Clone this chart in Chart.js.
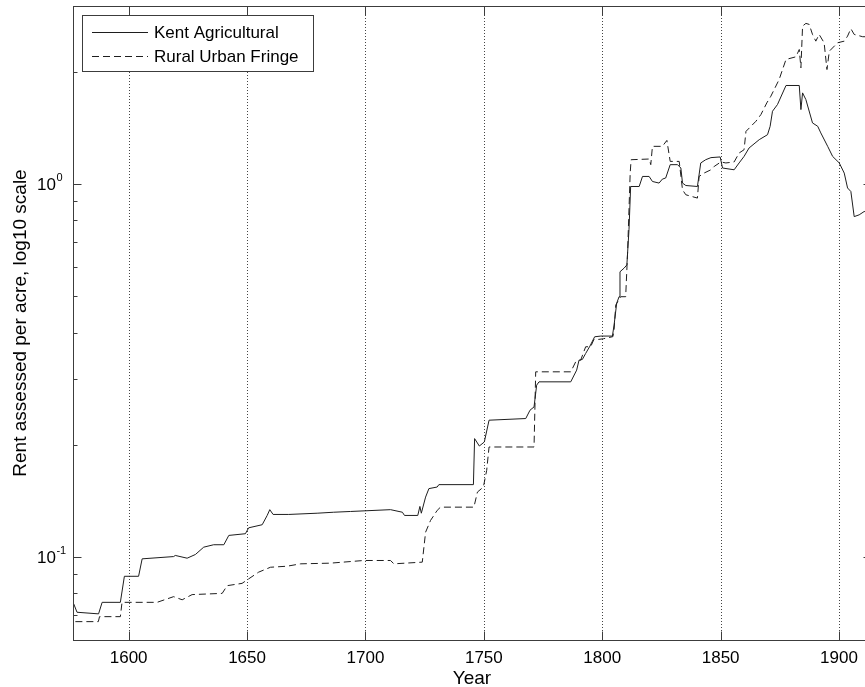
<!DOCTYPE html>
<html>
<head>
<meta charset="utf-8">
<script src="https://cdn.jsdelivr.net/npm/chart.js@4.4.0/dist/chart.umd.min.js"></script>
<style>
  html, body { margin: 0; padding: 0; background: #fff; overflow: hidden; }
  #wrap { width: 877px; height: 687px; }
</style>
</head>
<body>
<div id="wrap"><canvas id="rentChart" width="877" height="687"></canvas></div>
<script>
// values
const kentYears = [1576.8, 1578.2, 1587.3, 1588.8, 1596.5, 1598.2, 1604.2, 1605.7, 1619.0, 1619.7,
    1624.7, 1628.2, 1631.7, 1635.9, 1640.2, 1642.3, 1649.3, 1650.7, 1656.4, 1658.5,
    1659.6, 1661.0, 1667.6, 1679.6, 1686.6, 1693.7, 1710.6, 1715.6, 1716.5, 1722.1,
    1723.0, 1723.6, 1725.4, 1726.8, 1730.3, 1731.0, 1745.6, 1746.1, 1748.1, 1750.2,
    1752.2, 1767.7, 1769.5, 1771.2, 1772.3, 1773.3, 1786.7, 1789.2, 1790.2, 1791.6,
    1793.0, 1794.8, 1796.8, 1799.4, 1804.3, 1805.0, 1806.1, 1807.1, 1807.5, 1809.2,
    1810.4, 1811.3, 1812.0, 1815.6, 1817.0, 1819.8, 1821.2, 1824.0, 1825.4, 1826.8,
    1828.7, 1831.8, 1833.2, 1833.9, 1835.3, 1840.2, 1841.6, 1843.7, 1845.9, 1849.8,
    1850.8, 1855.7, 1857.8, 1859.9, 1862.0, 1866.3, 1869.8, 1870.9, 1871.9, 1874.0,
    1877.6, 1883.2, 1883.9, 1884.6, 1886.0, 1888.8, 1891.0, 1892.3, 1895.2, 1897.3,
    1900.1, 1902.2, 1903.6, 1905.0, 1906.4, 1908.5, 1910.6, 1913.5];
const kentRent = [0.0750, 0.0712, 0.0705, 0.0757, 0.0757, 0.0889, 0.0889, 0.0990, 0.1004, 0.1011,
    0.0994, 0.1017, 0.1064, 0.1080, 0.1080, 0.1144, 0.1156, 0.1199, 0.1222, 0.1294,
    0.1341, 0.1302, 0.1302, 0.1312, 0.1320, 0.1326, 0.1341, 0.1320, 0.1294, 0.1294,
    0.1368, 0.1312, 0.1449, 0.1527, 0.1542, 0.1565, 0.1565, 0.2079, 0.1986, 0.2036,
    0.2329, 0.2353, 0.2477, 0.2528, 0.2891, 0.2951, 0.2951, 0.3172, 0.3374, 0.3388,
    0.3516, 0.3679, 0.3897, 0.3914, 0.3914, 0.419, 0.479, 0.499, 0.582, 0.595,
    0.607, 0.754, 0.985, 0.985, 1.048, 1.048, 1.016, 1.006, 1.031, 1.038,
    1.127, 1.127, 1.104, 1.006, 0.991, 0.985, 1.139, 1.162, 1.177, 1.182,
    1.104, 1.092, 1.139, 1.186, 1.249, 1.315, 1.356, 1.428, 1.567, 1.633,
    1.837, 1.837, 1.583, 1.755, 1.684, 1.458, 1.428, 1.371, 1.262, 1.186,
    1.139, 1.070, 0.976, 0.955, 0.818, 0.827, 0.844, 0.844];

const fringeYears = [1577.5, 1587.2, 1587.7, 1596.5, 1597.2, 1612.0, 1619.0, 1622.6, 1626.8, 1639.5,
    1641.6, 1647.9, 1650.7, 1654.9, 1659.9, 1666.9, 1672.6, 1685.2, 1699.3, 1710.6,
    1712.0, 1724.0, 1725.4, 1727.5, 1730.3, 1731.7, 1745.8, 1747.3, 1749.8, 1751.2,
    1752.2, 1771.2, 1771.9, 1786.7, 1788.8, 1790.9, 1793.0, 1795.1, 1796.5, 1798.6,
    1800.5, 1804.5, 1805.0, 1805.7, 1807.8, 1809.9, 1810.7, 1811.8, 1812.2, 1819.8,
    1820.5, 1821.2, 1825.4, 1827.3, 1828.7, 1832.5, 1833.9, 1835.3, 1840.2, 1840.9,
    1843.0, 1845.9, 1847.3, 1850.1, 1852.2, 1855.7, 1857.8, 1859.9, 1860.7, 1862.8,
    1864.9, 1867.0, 1869.5, 1871.2, 1874.7, 1877.6, 1881.8, 1883.2, 1883.9, 1884.6,
    1886.0, 1887.4, 1888.8, 1890.2, 1891.6, 1893.7, 1894.9, 1895.9, 1899.4, 1902.2,
    1903.6, 1905.0, 1906.4, 1910.0, 1913.5];
const fringeRent = [0.0672, 0.0672, 0.0693, 0.0693, 0.0757, 0.0757, 0.0784, 0.0769, 0.0794, 0.0800,
    0.0839, 0.0851, 0.0875, 0.0912, 0.0940, 0.0946, 0.0960, 0.0964, 0.0980, 0.0980,
    0.0960, 0.0970, 0.1167, 0.1255, 0.1335, 0.1362, 0.1362, 0.1495, 0.1542, 0.1709,
    0.1974, 0.1974, 0.3139, 0.3139, 0.3339, 0.3374, 0.3664, 0.3664, 0.3835, 0.3835,
    0.385, 0.390, 0.406, 0.474, 0.499, 0.499, 0.653, 1.070, 1.162, 1.167,
    1.127, 1.262, 1.262, 1.309, 1.150, 1.150, 0.965, 0.936, 0.917, 1.048,
    1.070, 1.092, 1.115, 1.146, 1.139, 1.146, 1.211, 1.236, 1.384, 1.428,
    1.473, 1.535, 1.650, 1.719, 1.906, 2.157, 2.193, 2.294, 2.049, 2.650,
    2.695, 2.678, 2.517, 2.415, 2.517, 2.391, 2.027, 2.270, 2.391, 2.415,
    2.491, 2.608, 2.517, 2.482, 2.482];

const seriesNames = ['Kent Agricultural', 'Rural Urban Fringe'];
const yLabelTicks = [0.1, 1];
const yLabelExponents = ['-1', '0'];

const FONT = '"Liberation Sans", Arial, sans-serif';
const AXIS_COLOR = '#3c3c3c';

function toPoints(xs, ys) {
    return xs.map((x, i) => ({ x: x, y: ys[i] }));
}

function minorLogTicks(min, max) {
    const out = [];
    for (let d = Math.floor(Math.log10(min)); d <= Math.ceil(Math.log10(max)); d++) {
        for (let m = 1; m < 10; m++) {
            const v = m * Math.pow(10, d);
            if (v >= min && v <= max) out.push({ v: v, major: m === 1 });
        }
    }
    return out;
}

const matlabFrame = {
    id: 'matlabFrame',
    beforeDatasetsDraw(chart) {
        const { ctx, chartArea: a, scales: { x } } = chart;
        ctx.save();
        ctx.strokeStyle = '#444';
        ctx.lineWidth = 1;
        ctx.setLineDash([1, 2]);
        x.ticks.forEach(t => {
            const px = Math.round(x.getPixelForValue(t.value)) + 0.5;
            ctx.beginPath();
            ctx.moveTo(px, a.top);
            ctx.lineTo(px, a.bottom);
            ctx.stroke();
        });
        ctx.restore();
    },
    afterDatasetsDraw(chart) {
        const { ctx, chartArea: a, scales: { x, y } } = chart;
        ctx.save();
        ctx.strokeStyle = AXIS_COLOR;
        ctx.lineWidth = 1;
        const L = Math.round(a.left) + 0.5, R = Math.round(a.right) + 0.5;
        const T = Math.round(a.top) + 0.5, B = Math.round(a.bottom) + 0.5;
        ctx.strokeRect(L, T, R - L, B - T);

        ctx.beginPath();
        x.ticks.forEach(t => {
            const px = Math.round(x.getPixelForValue(t.value)) + 0.5;
            ctx.moveTo(px, B); ctx.lineTo(px, B - 9);
            ctx.moveTo(px, T); ctx.lineTo(px, T + 9);
        });
        minorLogTicks(y.min, y.max).forEach(t => {
            const py = Math.round(y.getPixelForValue(t.v)) + 0.5;
            const len = t.major ? 8 : 4;
            ctx.moveTo(L, py); ctx.lineTo(L + len, py);
            ctx.moveTo(R, py); ctx.lineTo(R - len, py);
        });
        ctx.stroke();
        ctx.restore();
    },
    afterDraw(chart) {
        const { ctx, chartArea: a, scales: { y } } = chart;
        ctx.save();
        ctx.fillStyle = '#000';

        // y tick labels 10^n
        yLabelTicks.forEach((v, i) => {
            const py = y.getPixelForValue(v);
            ctx.font = '17px ' + FONT;
            ctx.textAlign = 'left';
            ctx.textBaseline = 'middle';
            ctx.fillText('10', 37, py + 1);
            const w = ctx.measureText('10').width;
            ctx.font = '11px ' + FONT;
            ctx.fillText(yLabelExponents[i], 37 + w + 0.5, py - 6);
        });

        // axis titles
        ctx.font = '19px ' + FONT;
        ctx.textAlign = 'center';
        ctx.textBaseline = 'alphabetic';
        ctx.fillText('Year', (a.left + a.right) / 2, 684);
        ctx.translate(26, (a.top + a.bottom) / 2);
        ctx.rotate(-Math.PI / 2);
        ctx.fillText('Rent assessed per acre, log10 scale', 0, 0);
        ctx.setTransform(1, 0, 0, 1, 0, 0);

        // legend
        ctx.fillStyle = '#fff';
        ctx.fillRect(82, 15, 231, 56);
        ctx.strokeStyle = AXIS_COLOR;
        ctx.lineWidth = 1;
        ctx.strokeRect(82.5, 15.5, 231, 56);
        const rows = [32.5, 56.5];
        chart.data.datasets.forEach((ds, i) => {
            ctx.strokeStyle = ds.borderColor;
            ctx.setLineDash(ds.borderDash || []);
            ctx.beginPath();
            ctx.moveTo(92, rows[i]);
            ctx.lineTo(148, rows[i]);
            ctx.stroke();
            ctx.setLineDash([]);
            ctx.fillStyle = '#000';
            ctx.font = '17px ' + FONT;
            ctx.textAlign = 'left';
            ctx.textBaseline = 'middle';
            ctx.fillText(ds.label, 154, rows[i] + 0.5);
        });
        ctx.restore();
    }
};

new Chart(document.getElementById('rentChart'), {
    type: 'line',
    data: {
        datasets: [{
            label: seriesNames[0],
            data: toPoints(kentYears, kentRent),
            borderColor: '#1e1e1e',
            borderWidth: 1,
            pointRadius: 0,
            tension: 0
        }, {
            label: seriesNames[1],
            data: toPoints(fringeYears, fringeRent),
            borderColor: '#1e1e1e',
            borderWidth: 1,
            borderDash: [7, 4],
            pointRadius: 0,
            tension: 0
        }]
    },
    options: {
        responsive: false,
        animation: false,
        devicePixelRatio: 1,
        layout: { padding: { top: 6, right: 6, left: 0, bottom: 0 } },
        plugins: {
            legend: { display: false },
            tooltip: { enabled: false }
        },
        scales: {
            x: {
                type: 'linear',
                min: 1576.5,
                max: 1913.5,
                grid: { display: false, drawTicks: false },
                border: { display: false },
                ticks: {
                    stepSize: 50,
                    includeBounds: false,
                    padding: 8,
                    color: '#000',
                    maxRotation: 0,
                    font: { family: FONT, size: 17 },
                    callback: v => String(v)
                },
                afterFit: scale => { scale.height = 47; }
            },
            y: {
                type: 'logarithmic',
                min: 0.06,
                max: 3,
                grid: { display: false, drawTicks: false },
                border: { display: false },
                ticks: { display: false },
                afterFit: scale => { scale.width = 73; }
            }
        }
    },
    plugins: [matlabFrame]
});
</script>
</body>
</html>
